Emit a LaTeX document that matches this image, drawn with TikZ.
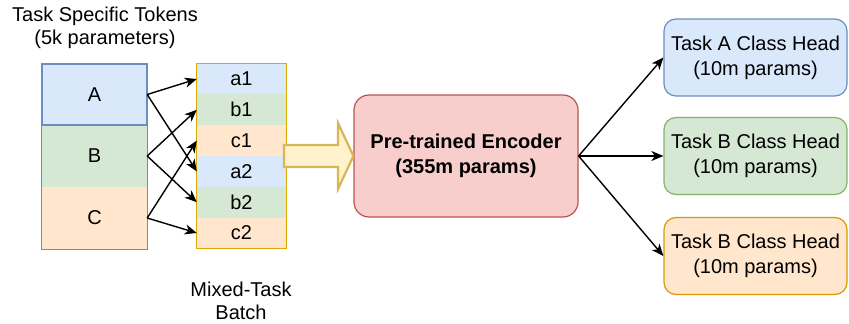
\documentclass[tikz,border=0pt]{standalone}
\usepackage{fontspec}
\setmainfont{Liberation Sans}
\usetikzlibrary{arrows.meta}
\definecolor{bfill}{HTML}{DAE8FC}\definecolor{bline}{HTML}{6C8EBF}
\definecolor{gfill}{HTML}{D5E8D4}\definecolor{gline}{HTML}{82B366}
\definecolor{ofill}{HTML}{FFE6CC}\definecolor{oline}{HTML}{D79B00}
\definecolor{rfill}{HTML}{F8CECC}\definecolor{rline}{HTML}{B85450}
\definecolor{yfill}{HTML}{FFF2CC}\definecolor{yline}{HTML}{D6B656}
\tikzset{
  txt/.style={font=\fontsize{20}{24}\selectfont, inner sep=0pt, align=center},
  bcell/.style={txt, minimum width=89pt, minimum height=30.8pt},
  head/.style={txt, font=\fontsize{20}{25}\selectfont, rounded corners=12pt, line width=1.2pt, minimum width=183pt, minimum height=77pt},
  conn/.style={line width=1.4pt, -{Stealth[length=12pt,width=10pt,inset=3.5pt]}},
}
\begin{document}
\begin{tikzpicture}[x=1pt,y=-1pt]
\useasboundingbox (0,0) rectangle (849,324);
% labels
\node[txt, font=\fontsize{20}{23}\selectfont] (ttl) at (105,28) {Task Specific Tokens\\(5k parameters)};
\node[txt, font=\fontsize{20}{23}\selectfont] (mtl) at (241,301) {Mixed-Task\\Batch};
% left token box
\node[txt, fill=bfill, minimum width=105pt, minimum height=61pt] (A) at (94.5,94.5) {A};
\node[txt, fill=gfill, minimum width=105pt, minimum height=62pt] (B) at (94.5,156) {B};
\node[txt, fill=ofill, minimum width=105pt, minimum height=62pt] (C) at (94.5,218) {C};
\draw[bline, line width=1pt] (A.north west) rectangle (C.south east);
\draw[bline, line width=2pt] (A.north west) rectangle (A.south east);
% batch
\node[bcell, fill=bfill] (a1) at (241.5,79) {a1};
\node[bcell, fill=gfill] (b1) at (241.5,109.8) {b1};
\node[bcell, fill=ofill] (c1) at (241.5,140.6) {c1};
\node[bcell, fill=bfill] (a2) at (241.5,171.4) {a2};
\node[bcell, fill=gfill] (b2) at (241.5,202.2) {b2};
\node[bcell, fill=ofill] (c2) at (241.5,233) {c2};
\draw[oline!85!yellow, line width=1.3pt] (a1.north west) rectangle (c2.south east);
% token arrows
\draw[conn] (A.east) -- (a1.west);
\draw[conn] (A.east) -- (a2.west);
\draw[conn] (B.east) -- (b1.west);
\draw[conn] (B.east) -- (b2.west);
\draw[conn] (C.east) -- (c1.west);
\draw[conn] (C.east) -- (c2.west);
% encoder
\node[txt, font=\fontsize{20}{25}\selectfont\bfseries, fill=rfill, draw=rline, line width=1.2pt, rounded corners=15pt, minimum width=224pt, minimum height=122pt] (enc) at (466,156) {Pre-trained Encoder\\(355m params)};
% fat arrow
\draw[fill=yfill, draw=yline, line width=2.2pt, line join=miter]
  (284,145) -- (338,145) -- (338,123) -- (enc.west) -- (338,189) -- (338,167) -- (284,167) -- cycle;
% heads
\node[head, fill=bfill, draw=bline] (hA) at (755.5,57.5) {Task A Class Head\\(10m params)};
\node[head, fill=gfill, draw=gline] (hB) at (755.5,156) {Task B Class Head\\(10m params)};
\node[head, fill=ofill, draw=oline] (hC) at (755.5,256) {Task B Class Head\\(10m params)};
\draw[conn] (enc.east) -- (hA.west);
\draw[conn] (enc.east) -- (hB.west);
\draw[conn] (enc.east) -- (hC.west);
\end{tikzpicture}
\end{document}
